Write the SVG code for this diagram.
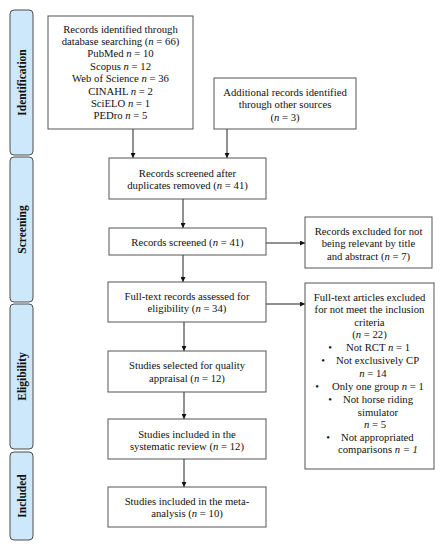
<svg xmlns="http://www.w3.org/2000/svg" width="442" height="550" viewBox="0 0 442 550">
<defs>
<style>
.panel{fill:#cde8fa;stroke:#4d4d4d;stroke-width:1}
.box{fill:#fff;stroke:#555;stroke-width:1}
text{font-family:'Liberation Serif','DejaVu Serif',serif;fill:#111}
.lbl{font-weight:bold;font-size:11.5px;text-anchor:middle}
.t{font-size:10.7px;text-anchor:middle}
.tl{font-size:10.7px}
.i{font-style:italic}
.conn{stroke:#222;stroke-width:1;fill:none;marker-end:url(#ah)}
</style>
<marker id="ah" viewBox="0 0 10 10" refX="10" refY="5" markerWidth="5" markerHeight="5" orient="auto" markerUnits="userSpaceOnUse">
<path d="M0,0 L10,5 L0,10 z" fill="#111"/>
</marker>
</defs>
<rect width="442" height="550" fill="#fff"/>

<g id="phase-identification">
<rect class="panel" x="10" y="10" width="23" height="145" rx="4"/>
<text class="lbl" font-family="Liberation Serif, serif" transform="translate(25.5,82.5) rotate(-90)">Identification</text>
</g>
<g id="phase-screening">
<rect class="panel" x="10" y="157" width="23" height="145" rx="4"/>
<text class="lbl" font-family="Liberation Serif, serif" transform="translate(25.5,229.5) rotate(-90)">Screening</text>
</g>
<g id="phase-eligibility">
<rect class="panel" x="10" y="304" width="23" height="145" rx="4"/>
<text class="lbl" font-family="Liberation Serif, serif" transform="translate(25.5,376.5) rotate(-90)">Eligibility</text>
</g>
<g id="phase-included">
<rect class="panel" x="10" y="452" width="23" height="88" rx="4"/>
<text class="lbl" font-family="Liberation Serif, serif" transform="translate(25.5,496) rotate(-90)">Included</text>
</g>

<g id="connectors">
<line class="conn" x1="133" y1="129" x2="133" y2="158"/>
<line class="conn" x1="227" y1="129" x2="227" y2="158"/>
<line class="conn" x1="183" y1="199" x2="183" y2="228"/>
<line class="conn" x1="266" y1="243" x2="305" y2="243"/>
<line class="conn" x1="183" y1="255" x2="183" y2="282"/>
<line class="conn" x1="266" y1="304" x2="305" y2="304"/>
<line class="conn" x1="184" y1="322" x2="184" y2="351"/>
<line class="conn" x1="184" y1="392" x2="184" y2="419"/>
<line class="conn" x1="184" y1="459" x2="184" y2="487"/>
</g>

<g id="records-identified">
<rect class="box" x="48" y="16" width="145" height="113"/>
<text class="t" x="120.5" y="32.5">Records identified through</text>
<text class="t" x="120.5" y="44.9">database searching (<tspan class="i">n</tspan> = 66)</text>
<text class="t" x="120.5" y="57.3">PubMed <tspan class="i">n</tspan> = 10</text>
<text class="t" x="120.5" y="69.7">Scopus <tspan class="i">n</tspan> = 12</text>
<text class="t" x="120.5" y="82.1">Web of Science <tspan class="i">n</tspan> = 36</text>
<text class="t" x="120.5" y="94.5">CINAHL <tspan class="i">n</tspan> = 2</text>
<text class="t" x="120.5" y="106.9">SciELO <tspan class="i">n</tspan> = 1</text>
<text class="t" x="120.5" y="119.3">PEDro <tspan class="i">n</tspan> = 5</text>
</g>

<g id="additional-records">
<rect class="box" x="214" y="78" width="142" height="51"/>
<text class="t" x="285" y="95.5">Additional records identified</text>
<text class="t" x="285" y="108">through other sources</text>
<text class="t" x="285" y="120.5">(<tspan class="i">n</tspan> = 3)</text>
</g>

<g id="after-duplicates">
<rect class="box" x="109" y="158" width="157" height="41"/>
<text class="t" x="187.5" y="176.5">Records screened after</text>
<text class="t" x="187.5" y="189">duplicates removed (<tspan class="i">n</tspan> = 41)</text>
</g>

<g id="records-screened">
<rect class="box" x="109" y="228" width="157" height="27"/>
<text class="t" x="187.5" y="245.5">Records screened (<tspan class="i">n</tspan> = 41)</text>
</g>

<g id="excluded-title">
<rect class="box" x="305" y="217" width="127" height="51"/>
<text class="t" x="368.5" y="234.5">Records excluded for not</text>
<text class="t" x="368.5" y="247">being relevant by title</text>
<text class="t" x="368.5" y="259.5">and abstract (<tspan class="i">n</tspan> = 7)</text>
</g>

<g id="full-text">
<rect class="box" x="108" y="282" width="158" height="40"/>
<text class="t" x="187" y="299.5">Full-text records assessed for</text>
<text class="t" x="187" y="312">eligibility (<tspan class="i">n</tspan> = 34)</text>
</g>

<g id="excluded-fulltext">
<rect class="box" x="305" y="283" width="129" height="186"/>
<text class="t" x="369.5" y="300.5">Full-text articles excluded</text>
<text class="t" x="369.5" y="313">for not meet the inclusion</text>
<text class="t" x="369.5" y="325.5">criteria</text>
<text class="t" x="369.5" y="337.5">(<tspan class="i">n</tspan> = 22)</text>
<text class="t" x="330" y="350.5">•</text>
<text class="tl" x="346" y="350.5">Not RCT <tspan class="i">n</tspan> = 1</text>
<text class="t" x="323" y="363.5">•</text>
<text class="tl" x="336" y="363.5">Not exclusively CP</text>
<text class="t" x="373" y="376.5"><tspan class="i">n</tspan> = 14</text>
<text class="t" x="317" y="389.5">•</text>
<text class="tl" x="332" y="389.5">Only one group <tspan class="i">n</tspan> = 1</text>
<text class="t" x="330" y="402.5">•</text>
<text class="tl" x="343" y="402.5">Not horse riding</text>
<text class="t" x="378" y="415.5">simulator</text>
<text class="t" x="375" y="427.5"><tspan class="i">n</tspan> = 5</text>
<text class="t" x="328" y="440.5">•</text>
<text class="tl" x="341" y="440.5">Not appropriated</text>
<text class="t" x="378" y="452.5">comparisons <tspan class="i">n = 1</tspan></text>
</g>

<g id="quality-appraisal">
<rect class="box" x="108" y="351" width="158" height="41"/>
<text class="t" x="187" y="368.5">Studies selected for quality</text>
<text class="t" x="187" y="381.5">appraisal (<tspan class="i">n</tspan> = 12)</text>
</g>

<g id="systematic-review">
<rect class="box" x="108" y="419" width="158" height="40"/>
<text class="t" x="187" y="437.5">Studies included in the</text>
<text class="t" x="187" y="449.5">systematic review (<tspan class="i">n</tspan> = 12)</text>
</g>

<g id="meta-analysis">
<rect class="box" x="108" y="487" width="158" height="40"/>
<text class="t" x="187" y="504.5">Studies included in the meta-</text>
<text class="t" x="187" y="516.5">analysis (<tspan class="i">n</tspan> = 10)</text>
</g>
</svg>
